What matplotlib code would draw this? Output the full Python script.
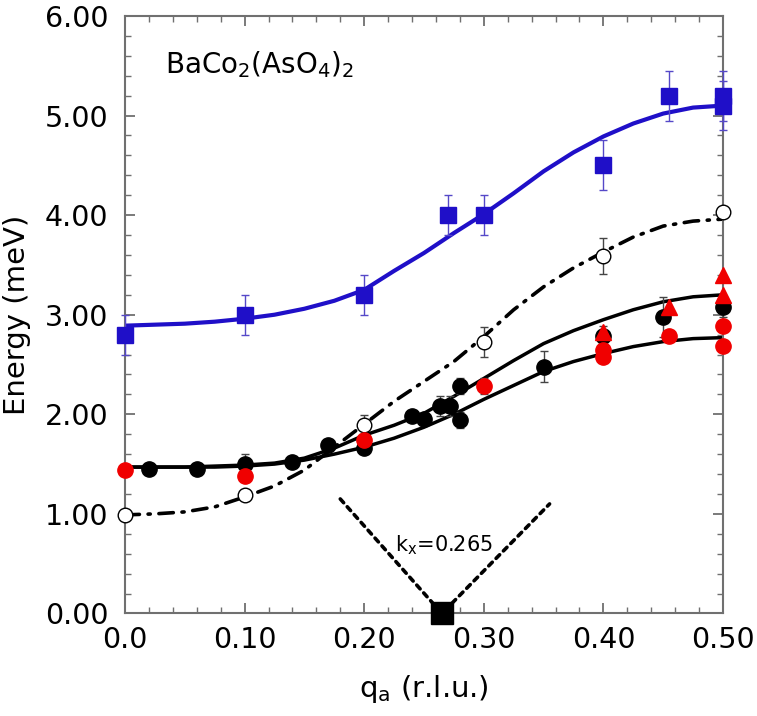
import numpy as np
import matplotlib
matplotlib.use("Agg")
import matplotlib.pyplot as plt
from matplotlib.ticker import MultipleLocator

plt.rcParams['font.family'] = ['DejaVu Sans']
plt.rcParams['mathtext.fontset'] = 'dejavusans'

# Blue squares (upper mode)
blue_q = [0.0, 0.10, 0.20, 0.27, 0.30, 0.40, 0.455, 0.50, 0.50]
blue_E = [2.80, 3.00, 3.20, 4.00, 4.00, 4.50, 5.20, 5.20, 5.10]
blue_err = [0.2, 0.2, 0.2, 0.2, 0.2, 0.25, 0.25, 0.25, 0.25]

# Open circles
open_q = [0.0, 0.10, 0.20, 0.30, 0.40, 0.50]
open_E = [0.99, 1.19, 1.89, 2.73, 3.59, 4.03]
open_err = [0.0, 0.0, 0.1, 0.15, 0.18, 0.0]

# Black filled circles
black_q = [0.02, 0.06, 0.10, 0.14, 0.17, 0.20, 0.24, 0.25, 0.263, 0.272, 0.28, 0.28, 0.35, 0.40, 0.45, 0.50]
black_E = [1.45, 1.45, 1.50, 1.52, 1.69, 1.66, 1.98, 1.95, 2.08, 2.08, 2.28, 1.94, 2.48, 2.79, 2.98, 3.08]
black_err = [0, 0, 0.1, 0, 0, 0, 0, 0, 0.1, 0.1, 0.08, 0.08, 0.16, 0.1, 0.2, 0.1]

# Red filled circles
red_q = [0.0, 0.10, 0.20, 0.30, 0.40, 0.40, 0.455, 0.50, 0.50]
red_E = [1.44, 1.38, 1.74, 2.28, 2.65, 2.58, 2.79, 2.89, 2.69]
red_err = [0, 0, 0, 0.08, 0, 0, 0, 0, 0]

# Red triangles
tri_q = [0.40, 0.455, 0.50, 0.50]
tri_E = [2.83, 3.08, 3.40, 3.20]

# Curves
curve_q = [0.0, 0.025, 0.05, 0.075, 0.10, 0.125, 0.15, 0.175, 0.20, 0.225, 0.25,
           0.275, 0.30, 0.325, 0.35, 0.375, 0.40, 0.425, 0.45, 0.475, 0.50]
blue_fit = [2.89, 2.90, 2.91, 2.93, 2.96, 3.00, 3.06, 3.14, 3.25, 3.44, 3.62,
            3.82, 4.01, 4.22, 4.44, 4.63, 4.79, 4.92, 5.02, 5.08, 5.10]
open_fit = [0.99, 1.00, 1.02, 1.07, 1.17, 1.28, 1.44, 1.67, 1.90, 2.13, 2.33,
            2.53, 2.78, 3.05, 3.28, 3.47, 3.63, 3.78, 3.89, 3.94, 3.96]
upper_fit = [1.47, 1.47, 1.47, 1.48, 1.49, 1.51, 1.56, 1.66, 1.79, 1.89, 2.01,
             2.18, 2.36, 2.54, 2.71, 2.84, 2.95, 3.05, 3.13, 3.18, 3.20]
lower_fit = [1.47, 1.47, 1.47, 1.47, 1.48, 1.50, 1.54, 1.60, 1.67, 1.76, 1.87,
             2.00, 2.15, 2.29, 2.43, 2.53, 2.61, 2.68, 2.73, 2.76, 2.77]

# k_x marker and guide lines
kx_q = [0.265]
kx_E = [0.0]
guide_q = [0.18, 0.265, 0.355]
guide_E = [1.15, 0.0, 1.10]

xticks = [0.0, 0.1, 0.2, 0.3, 0.4, 0.5]
xticklabels = ['0.0', '0.10', '0.20', '0.30', '0.40', '0.50']
yticks = [0, 1, 2, 3, 4, 5, 6]
yticklabels = ['0.00', '1.00', '2.00', '3.00', '4.00', '5.00', '6.00']

BLUE = '#1f0fc8'
RED = '#f00000'
AXC = '#707070'

fig = plt.figure(figsize=(7.57, 7.16), dpi=100)
ax = fig.add_axes([0.1651, 0.1432, 0.79, 0.8345])

# fits
ax.plot(curve_q, blue_fit, color=BLUE, lw=3.0, solid_capstyle='round',
        solid_joinstyle='round', zorder=2)
ax.plot(curve_q, upper_fit, color='black', lw=2.5, solid_joinstyle='round', zorder=2)
ax.plot(curve_q, lower_fit, color='black', lw=2.5, solid_joinstyle='round', zorder=2)
ax.plot(curve_q, open_fit, color='black', lw=2.6, dashes=(4.0, 2.4, 0.6, 2.4),
        dash_capstyle='round', zorder=2)
ax.plot(guide_q, guide_E, color='black', lw=2.6, dashes=(1.4, 1.5),
        dash_capstyle='round', zorder=2)

# data
ax.errorbar(blue_q, blue_E, yerr=blue_err, fmt='s', color=BLUE, ms=11.5,
            ecolor='#5548c8', elinewidth=1, capsize=3, zorder=4, clip_on=False)
ax.errorbar(open_q, open_E, yerr=open_err, fmt='o', mfc='white', mec='black', mew=1,
            ms=10.5, ecolor='#444444', elinewidth=1, capsize=3, zorder=4, clip_on=False)
ax.errorbar(black_q, black_E, yerr=black_err, fmt='o', color='black', ms=11,
            ecolor='#444444', elinewidth=1, capsize=3, zorder=4, clip_on=False)
ax.errorbar(red_q, red_E, yerr=red_err, fmt='o', color=RED, ms=11,
            ecolor='#444444', elinewidth=1, capsize=3, zorder=5, clip_on=False)
ax.plot(tri_q, tri_E, '^', color=RED, ms=11, zorder=5, clip_on=False)
ax.plot(kx_q, kx_E, 's', color='black', ms=16, zorder=6, clip_on=False)

ax.text(0.067, 0.905, r'BaCo$_2$(AsO$_4$)$_2$', transform=ax.transAxes,
        fontsize=20, va='baseline', ha='left')
ax.text(0.2258, 0.62, r'k$_\mathrm{x}$=0.265', fontsize=15, va='baseline', ha='left')

ax.set_xlim(0, 0.5)
ax.set_ylim(0, 6)
ax.set_xticks(xticks)
ax.set_xticklabels(xticklabels)
ax.set_yticks(yticks)
ax.set_yticklabels(yticklabels)
ax.xaxis.set_minor_locator(MultipleLocator(0.02))
ax.yaxis.set_minor_locator(MultipleLocator(0.2))
ax.tick_params(which='both', direction='in', top=True, right=True, color=AXC,
               labelsize=20.5)
ax.tick_params(which='major', length=7, width=1.3)
ax.tick_params(which='minor', length=4, width=1.0)
ax.tick_params(axis='y', pad=12)
ax.tick_params(axis='x', pad=9)
for s in ax.spines.values():
    s.set_color(AXC)
    s.set_linewidth(1.5)

ax.set_xlabel(r'q$_\mathrm{a}$ (r.l.u.)', fontsize=21, labelpad=14)
ax.set_ylabel('Energy (meV)', fontsize=21, labelpad=10)

fig.savefig('out.png', dpi=100)
